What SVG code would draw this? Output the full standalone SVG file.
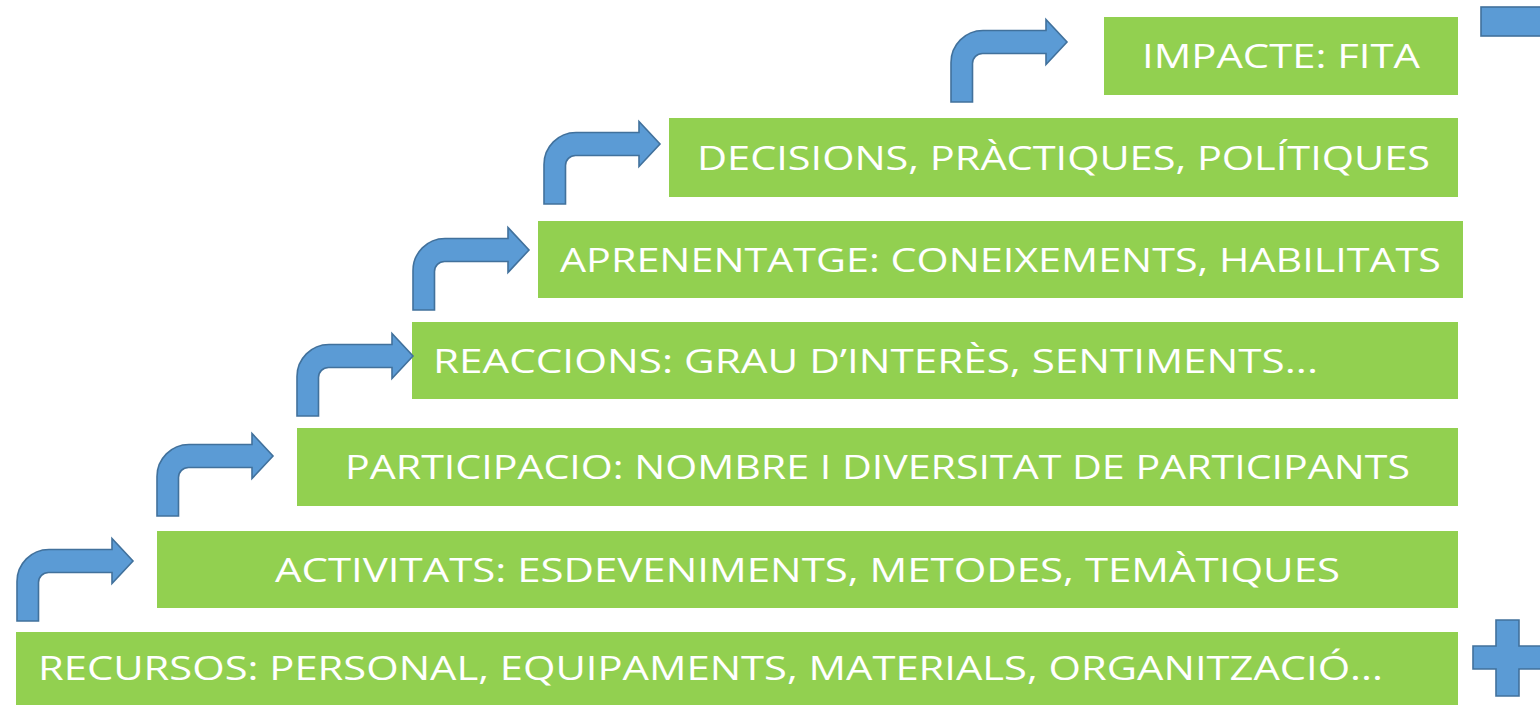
<svg xmlns="http://www.w3.org/2000/svg" width="1540" height="706" viewBox="0 0 1540 706">
<style>
.box{fill:#92D050}
.lbl{fill:#FFFFFF;font-family:"Open Sans","Liberation Sans",sans-serif;font-size:33px}
.mid{text-anchor:middle}
.blue{fill:#5B9BD5;stroke:#41719C;stroke-width:1.6;stroke-linejoin:miter}
</style>
<defs>
<path id="bent" d="M0,60 L0,20.5 A32,32 0 0 1 32,-11.5 L95,-11.5 L95,-22.5 L116,0 L95,22.5 L95,11.5 L31.5,11.5 A10,10 0 0 0 21.5,21.5 L21.5,60 Z"/>
</defs>
<rect width="1540" height="706" fill="#FFFFFF"/>
<g id="n1">
<rect class="box" x="16" y="632" width="1442" height="73"/>
<text class="lbl" x="38" y="680" textLength="1345" lengthAdjust="spacingAndGlyphs">RECURSOS: PERSONAL, EQUIPAMENTS, MATERIALS, ORGANITZACIÓ...</text>
</g>
<g id="n2">
<rect class="box" x="157" y="531" width="1301" height="77"/>
<text class="lbl mid" x="807.5" y="581.5" textLength="1065" lengthAdjust="spacingAndGlyphs">ACTIVITATS: ESDEVENIMENTS, METODES, TEMÀTIQUES</text>
</g>
<g id="n3">
<rect class="box" x="297" y="428" width="1161" height="78"/>
<text class="lbl mid" x="877.5" y="479" textLength="1065" lengthAdjust="spacingAndGlyphs">PARTICIPACIO: NOMBRE I DIVERSITAT DE PARTICIPANTS</text>
</g>
<g id="n4">
<rect class="box" x="412" y="322" width="1046" height="77"/>
<text class="lbl" x="433" y="372.5" textLength="885" lengthAdjust="spacingAndGlyphs">REACCIONS: GRAU D’INTERÈS, SENTIMENTS...</text>
</g>
<g id="n5">
<rect class="box" x="538" y="221" width="925" height="77"/>
<text class="lbl mid" x="1000.5" y="271.5" textLength="881" lengthAdjust="spacingAndGlyphs">APRENENTATGE: CONEIXEMENTS, HABILITATS</text>
</g>
<g id="n6">
<rect class="box" x="669" y="118" width="789" height="79"/>
<text class="lbl mid" x="1063.5" y="169.5" textLength="733" lengthAdjust="spacingAndGlyphs">DECISIONS, PRÀCTIQUES, POLÍTIQUES</text>
</g>
<g id="n7">
<rect class="box" x="1104" y="17" width="354" height="78"/>
<text class="lbl mid" x="1281" y="68" textLength="278" lengthAdjust="spacingAndGlyphs">IMPACTE: FITA</text>
</g>
<g id="connectors">
<use href="#bent" class="blue" transform="translate(17,561)"/>
<use href="#bent" class="blue" transform="translate(157,456)"/>
<use href="#bent" class="blue" transform="translate(297,356)"/>
<use href="#bent" class="blue" transform="translate(413,250)"/>
<use href="#bent" class="blue" transform="translate(544,144)"/>
<use href="#bent" class="blue" transform="translate(951,42)"/>
</g>
<g id="minus">
<rect class="blue" x="1481" y="7" width="70" height="29"/>
</g>
<g id="plus">
<polygon class="blue" points="1496,620 1519,620 1519,646 1548,646 1548,669 1519,669 1519,696 1496,696 1496,669 1473,669 1473,646 1496,646"/>
</g>
</svg>
